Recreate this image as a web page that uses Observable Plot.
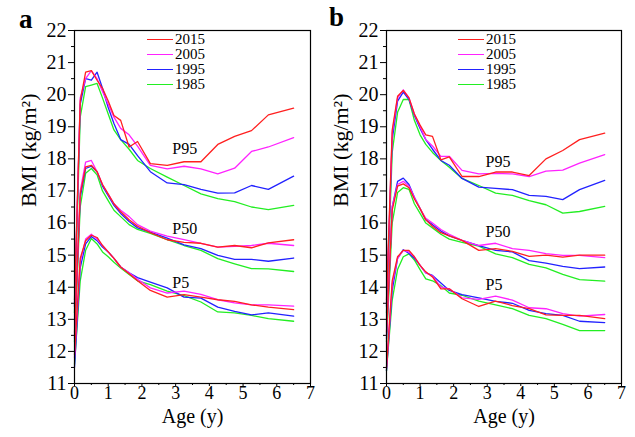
<!DOCTYPE html>
<html>
<head>
<meta charset="utf-8">
<script src="https://cdn.jsdelivr.net/npm/d3@7"></script>
<script src="https://cdn.jsdelivr.net/npm/@observablehq/plot@0.6"></script>
<style>
  html, body { margin: 0; padding: 0; background: white; }
  #wrap { position: relative; width: 635px; height: 437px; display: flex; font-family: "Liberation Serif", "Times New Roman", serif; }
  .plab { position: absolute; font-weight: bold; font-size: 27px; line-height: 1; }
  .leg { position: absolute; font-size: 15px; line-height: 14px; height: 14px; display: flex; align-items: center; }
  .leg span.sw { display: inline-block; width: 26px; height: 0; border-top: 1.4px solid; margin-right: 2px; }
</style>
</head>
<body>
<div id="wrap"></div>
<script>
// ---- data ----
const years = ["2015", "2005", "1995", "1985"];
const colors = ["#ff1f1f", "#ff22ff", "#2222ff", "#22ee22"];
const ages = [0, 0.17, 0.33, 0.5, 0.67, 0.83, 1.0, 1.17, 1.37, 1.62, 1.87, 2.25, 2.75, 3.25, 3.75, 4.25, 4.75, 5.25, 5.75, 6.5];

// panel a (rows: 2015, 2005, 1995, 1985)
const aP95 = [
  [13.6, 19.8, 20.7, 20.75, 20.45, 20.2, 19.8, 19.35, 19.2, 18.37, 18.54, 17.85, 17.8, 17.91, 17.91, 18.45, 18.7, 18.88, 19.37, 19.58],
  [13.5, 19.9, 20.5, 20.75, 20.5, 20.1, 19.7, 19.3, 18.95, 18.75, 18.4, 17.8, 17.69, 17.77, 17.69, 17.53, 17.71, 18.23, 18.37, 18.66],
  [13.4, 19.7, 20.5, 20.45, 20.7, 20.2, 19.6, 19.1, 18.6, 18.45, 18.1, 17.6, 17.25, 17.2, 17.05, 16.93, 16.94, 17.17, 17.05, 17.46],
  [13.2, 19.3, 20.25, 20.3, 20.35, 19.9, 19.4, 18.9, 18.6, 18.3, 17.95, 17.7, 17.43, 17.17, 16.91, 16.76, 16.67, 16.5, 16.42, 16.55]
];
const aP50 = [
  [12.6, 16.9, 17.75, 17.8, 17.6, 17.2, 16.9, 16.6, 16.35, 16.1, 15.9, 15.7, 15.48, 15.4, 15.37, 15.25, 15.3, 15.23, 15.38, 15.48],
  [12.5, 17.0, 17.9, 17.95, 17.6, 17.2, 16.9, 16.6, 16.4, 16.2, 15.95, 15.75, 15.59, 15.48, 15.37, 15.25, 15.27, 15.3, 15.37, 15.3],
  [12.4, 16.8, 17.7, 17.77, 17.6, 17.15, 16.85, 16.55, 16.3, 16.05, 15.85, 15.72, 15.53, 15.32, 15.2, 14.99, 14.87, 14.87, 14.81, 14.91],
  [12.3, 16.5, 17.55, 17.7, 17.5, 17.0, 16.7, 16.4, 16.2, 15.95, 15.8, 15.68, 15.48, 15.3, 15.15, 14.89, 14.73, 14.58, 14.57, 14.49]
];
const aP5 = [
  [11.9, 14.9, 15.45, 15.62, 15.55, 15.3, 15.1, 14.9, 14.63, 14.42, 14.2, 13.9, 13.69, 13.77, 13.69, 13.61, 13.56, 13.45, 13.38, 13.3],
  [11.8, 14.8, 15.5, 15.65, 15.5, 15.3, 15.1, 14.9, 14.63, 14.45, 14.25, 13.98, 13.82, 13.88, 13.78, 13.61, 13.51, 13.45, 13.45, 13.41],
  [11.5, 14.6, 15.35, 15.58, 15.45, 15.25, 15.1, 14.9, 14.63, 14.45, 14.3, 14.16, 13.98, 13.69, 13.66, 13.38, 13.25, 13.14, 13.2, 13.1],
  [11.6, 14.2, 15.15, 15.52, 15.35, 15.1, 14.95, 14.78, 14.6, 14.4, 14.2, 14.08, 13.88, 13.74, 13.54, 13.23, 13.2, 13.12, 13.02, 12.94]
];

// panel b
const bP95 = [
  [13.6, 18.9, 19.95, 20.13, 19.9, 19.4, 19.05, 18.75, 18.7, 17.97, 18.06, 17.45, 17.45, 17.59, 17.59, 17.48, 18.0, 18.26, 18.6, 18.8],
  [13.5, 18.8, 19.9, 20.15, 19.9, 19.4, 19.0, 18.6, 18.4, 18.08, 18.08, 17.64, 17.53, 17.55, 17.53, 17.45, 17.62, 17.65, 17.87, 18.13],
  [13.4, 18.6, 19.8, 20.08, 19.85, 19.35, 18.95, 18.6, 18.3, 17.95, 17.8, 17.39, 17.12, 17.08, 17.04, 16.86, 16.83, 16.73, 17.04, 17.33],
  [13.2, 18.2, 19.45, 19.85, 19.85, 19.2, 18.75, 18.45, 18.2, 17.95, 17.74, 17.39, 17.17, 16.93, 16.86, 16.7, 16.57, 16.31, 16.36, 16.52]
];
const bP50 = [
  [12.6, 16.4, 17.15, 17.22, 17.1, 16.75, 16.45, 16.1, 15.9, 15.7, 15.6, 15.46, 15.15, 15.2, 15.12, 14.96, 15.0, 14.94, 15.0, 15.0],
  [12.5, 16.5, 17.2, 17.3, 17.15, 16.8, 16.45, 16.15, 16.0, 15.8, 15.65, 15.46, 15.3, 15.37, 15.2, 15.15, 15.05, 14.99, 14.99, 14.92],
  [12.4, 16.5, 17.3, 17.4, 17.2, 16.8, 16.45, 16.1, 15.95, 15.75, 15.6, 15.46, 15.3, 15.15, 15.1, 14.83, 14.75, 14.65, 14.58, 14.63],
  [12.3, 16.0, 16.95, 17.1, 17.05, 16.6, 16.3, 16.0, 15.85, 15.65, 15.5, 15.4, 15.28, 15.04, 14.92, 14.71, 14.6, 14.4, 14.24, 14.19]
];
const bP5 = [
  [11.5, 14.2, 14.95, 15.15, 15.15, 14.95, 14.68, 14.48, 14.32, 13.95, 13.95, 13.64, 13.4, 13.57, 13.43, 13.33, 13.14, 13.12, 13.12, 13.02],
  [11.45, 14.1, 14.9, 15.15, 15.1, 14.95, 14.68, 14.45, 14.35, 14.0, 13.95, 13.67, 13.62, 13.72, 13.6, 13.36, 13.33, 13.18, 13.1, 13.15],
  [11.4, 13.9, 14.9, 15.17, 15.05, 14.9, 14.68, 14.45, 14.37, 14.13, 13.9, 13.77, 13.67, 13.56, 13.5, 13.28, 13.18, 13.12, 12.94, 12.9],
  [11.4, 13.6, 14.55, 14.95, 15.04, 14.85, 14.55, 14.26, 14.2, 14.05, 13.82, 13.75, 13.57, 13.45, 13.33, 13.12, 13.02, 12.84, 12.65, 12.65]
];

// curve annotations
const pctLabels = ["P95", "P50", "P5"];
const aLabelAge = [2.9, 2.9, 2.9];
const aLabelBMI = [18.3, 15.83, 14.15];
const bLabelAge = [2.95, 2.95, 2.95];
const bLabelBMI = [17.92, 15.71, 14.07];

const xTicks = [0, 1, 2, 3, 4, 5, 6, 7];
const yTicks = [11, 12, 13, 14, 15, 16, 17, 18, 19, 20, 21, 22];

// ---- build ----
function tidy(groups) {
  const out = [];
  groups.forEach(([pct, series]) => {
    series.forEach((vals, i) => {
      vals.forEach((v, j) => out.push({pct, year: years[i], age: ages[j], bmi: v}));
    });
  });
  return out;
}

function panel(groups, labAge, labBMI, width, marginLeft, marginRight) {
  const data = tidy(groups);
  const labels = pctLabels.map((t, i) => ({t, x: labAge[i], y: labBMI[i]}));
  const lineMarks = years.slice().reverse().map(yr =>
    Plot.line(data.filter(d => d.year === yr), {x: "age", y: "bmi", z: "pct", stroke: () => yr, strokeWidth: 1.3})
  );
  return Plot.plot({
    width, height: 437,
    marginLeft, marginRight, marginTop: 30, marginBottom: 54,
    x: {domain: [0, 7]},
    y: {domain: [11, 22]},
    color: {domain: years, range: colors},
    style: {background: "white", color: "black", fontFamily: "'Liberation Serif', 'Times New Roman', serif", fontSize: "20px", overflow: "visible"},
    marks: [
      Plot.axisX({ticks: xTicks, tickSize: 3, tickPadding: 0, tickFormat: d => String(d), label: null, fontSize: 18}),
      Plot.axisX({ticks: xTicks.slice(0, -1).map(d => d + 0.5), tickSize: 2, tickFormat: () => "", label: null}),
      Plot.axisY({ticks: yTicks, tickSize: 6, tickPadding: 2, tickFormat: d => String(d), label: null, fontSize: 20}),
      Plot.axisY({ticks: yTicks.slice(0, -1).map(d => d + 0.5), tickSize: 3, tickFormat: () => "", label: null}),
      ...lineMarks,
      Plot.text(labels, {x: "x", y: "y", text: "t", textAnchor: "start", fontSize: 16}),
      Plot.text(["Age (y)"], {text: d => d, frameAnchor: "bottom", dy: 39, fontSize: 20}),
      Plot.text(["BMI (kg/m²)"], {text: d => d, frameAnchor: "left", rotate: -90, dx: -46, fontSize: 22}),
      Plot.frame({stroke: "black", strokeWidth: 1.2})
    ]
  });
}

const wrap = document.getElementById("wrap");
wrap.append(panel([["P95", aP95], ["P50", aP50], ["P5", aP5]], aLabelAge, aLabelBMI, 317, 74, 7));
wrap.append(panel([["P95", bP95], ["P50", bP50], ["P5", bP5]], bLabelAge, bLabelBMI, 318, 69, 14));

// panel letters
[["a", 19, 6], ["b", 329, 4]].forEach(([t, l, tp]) => {
  const d = document.createElement("div");
  d.className = "plab"; d.textContent = t;
  d.style.left = l + "px"; d.style.top = tp + "px";
  wrap.append(d);
});

// legends
[147, 458].forEach(left => {
  years.forEach((yr, i) => {
    const row = document.createElement("div");
    row.className = "leg";
    row.style.left = left + "px";
    row.style.top = (32 + 15 * i) + "px";
    const sw = document.createElement("span");
    sw.className = "sw"; sw.style.borderTopColor = colors[i];
    row.append(sw, document.createTextNode(yr));
    wrap.append(row);
  });
});
</script>
</body>
</html>
